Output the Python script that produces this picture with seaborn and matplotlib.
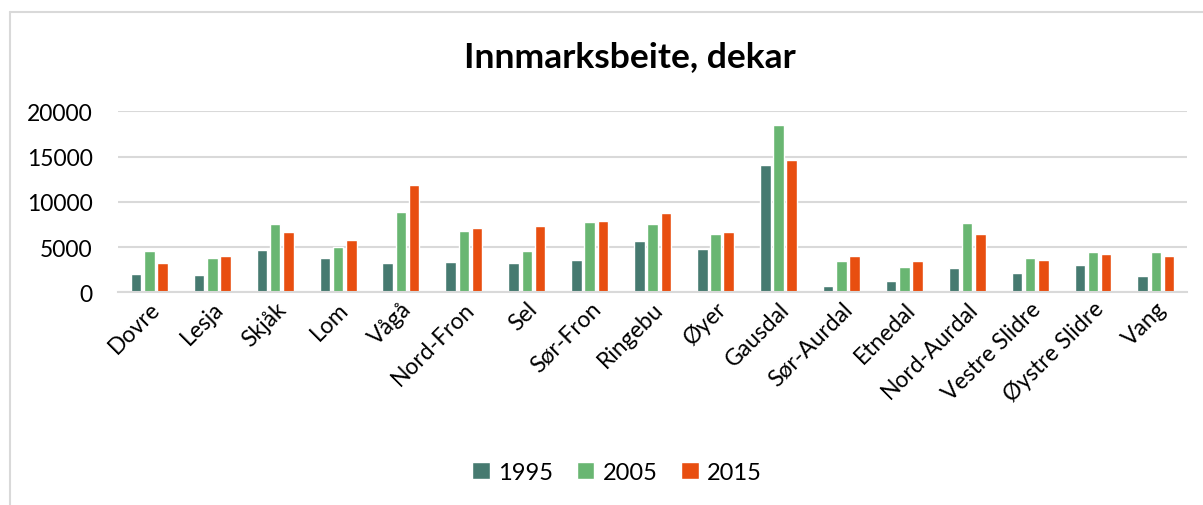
import matplotlib.pyplot as plt
from matplotlib.lines import Line2D
import seaborn as sns
import pandas as pd

# Innmarksbeite per kommune, dekar
kommuner = ['Dovre', 'Lesja', 'Skjåk', 'Lom', 'Vågå', 'Nord-Fron', 'Sel', 'Sør-Fron',
            'Ringebu', 'Øyer', 'Gausdal', 'Sør-Aurdal', 'Etnedal', 'Nord-Aurdal',
            'Vestre Slidre', 'Øystre Slidre', 'Vang']
aar = ['1995', '2005', '2015']
v1995 = [2020, 1950, 4630, 3790, 3200, 3350, 3200, 3530, 5630, 4740, 14040, 740, 1290, 2680, 2100, 3010, 1760]
v2005 = [4560, 3750, 7540, 5040, 8860, 6760, 4600, 7720, 7540, 6430, 18460, 3420, 2760, 7610, 3820, 4410, 4410]
v2015 = [3240, 4000, 6650, 5770, 11840, 7060, 7320, 7830, 8750, 6690, 14670, 4040, 3420, 6430, 3600, 4190, 3970]
farger = ['#467A70', '#69B672', '#E84E10']

df = pd.DataFrame({
    'kommune': kommuner * 3,
    'år': [a for a in aar for _ in kommuner],
    'dekar': v1995 + v2005 + v2015,
})

sns.set_style('white')
plt.rcParams['font.family'] = ['Lato', 'DejaVu Sans']
plt.rcParams['text.color'] = 'black'
plt.rcParams['xtick.color'] = 'black'
plt.rcParams['ytick.color'] = 'black'

fig = plt.figure(figsize=(12.03, 5.06), dpi=100)
ax = fig.add_axes([0.098, 0.4204, 0.889, 0.3576])

sns.barplot(data=df, x='kommune', y='dekar', hue='år', palette=farger,
            width=0.63, gap=0.2, ax=ax, errorbar=None, saturation=1)

ax.set_ylim(0, 20000)
ax.set_xlim(-0.5, len(kommuner) - 0.5)
ax.set_yticks([0, 5000, 10000, 15000, 20000])
ax.yaxis.grid(True, color='#D9D9D9', linewidth=1.5)
ax.set_axisbelow(True)
for s in ['top', 'right', 'left']:
    ax.spines[s].set_visible(False)
ax.spines['bottom'].set_color('#D9D9D9')
ax.spines['bottom'].set_linewidth(1.5)
ax.set_xlabel('')
ax.set_ylabel('')
ax.tick_params(axis='y', length=0, pad=18, labelsize=16.5)
ax.tick_params(axis='x', length=0, pad=4, labelsize=16.5)
plt.setp(ax.get_xticklabels(), rotation=45, ha='right', rotation_mode='anchor')

ax.get_legend().remove()
handles, labels = ax.get_legend_handles_labels()
fig.legend(handles, labels, loc='center', bbox_to_anchor=(0.513, 0.065), ncol=3,
           frameon=False, fontsize=17, handlelength=0.75, handleheight=0.75,
           handletextpad=0.35, columnspacing=1.0)

fig.text(0.524, 0.887, 'Innmarksbeite, dekar', ha='center', va='center',
         fontsize=25.5, fontweight='bold')

# ramme rundt diagrammet
fig.add_artist(Line2D([0.0083, 0.0083], [0, 0.974], color='#D9D9D9', linewidth=1.5))
fig.add_artist(Line2D([0.0083, 1], [0.974, 0.974], color='#D9D9D9', linewidth=1.5))

fig.savefig('out.png', dpi=100)
